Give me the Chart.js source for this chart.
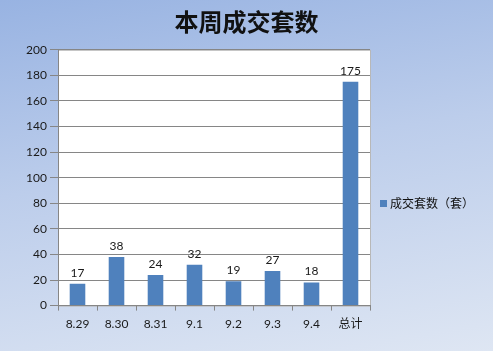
<!DOCTYPE html>
<html>
<head>
<meta charset="utf-8">
<script src="https://cdn.jsdelivr.net/npm/chart.js@4/dist/chart.umd.min.js"></script>
<style>
  html, body { margin: 0; padding: 0; }
  body {
    width: 493px; height: 351px; overflow: hidden;
    background: linear-gradient(170deg, #98b3e2 0%, #bccdeb 45%, #dee6f3 100%);
  }
  canvas { display: block; }
</style>
</head>
<body>
<canvas id="c" width="493" height="351"></canvas>
<script>
// 日期 / 成交套数
const days = ['8.29', '8.30', '8.31', '9.1', '9.2', '9.3', '9.4', '总计'];
const deals = [17, 38, 24, 32, 19, 27, 18, 175];
const yTicks = [0, 20, 40, 60, 80, 100, 120, 140, 160, 180, 200];
const seriesName = '成交套数（套）';

const fontFamily = "Lato, 'Noto Sans CJK SC', sans-serif";

// 白色绘图区 + 边框
const plotArea = {
    id: 'plotArea',
    beforeDraw(chart) {
        const { ctx, chartArea: a } = chart;
        ctx.save();
        ctx.fillStyle = '#ffffff';
        ctx.fillRect(a.left, a.top, a.right - a.left, a.bottom - a.top);
        ctx.strokeStyle = '#b8b8b8';
        ctx.lineWidth = 1;
        ctx.strokeRect(a.left + 0.5, a.top + 0.5, a.right - a.left, a.bottom - a.top);
        ctx.restore();
    }
};

// 柱顶数值
const valueLabels = {
    id: 'valueLabels',
    afterDatasetsDraw(chart) {
        const ctx = chart.ctx;
        const meta = chart.getDatasetMeta(0);
        ctx.save();
        ctx.font = '12px ' + fontFamily;
        ctx.fillStyle = '#1a1a1a';
        ctx.textAlign = 'center';
        ctx.textBaseline = 'bottom';
        meta.data.forEach((bar, i) => {
            ctx.fillText(deals[i], bar.x, bar.y - 5);
        });
        ctx.restore();
    }
};

// 右侧图例（Excel 风格，垂直位置偏下）
const sideLegend = {
    id: 'sideLegend',
    afterDraw(chart) {
        const ctx = chart.ctx;
        const x = chart.chartArea.right + 10;
        const y = 204;
        ctx.save();
        ctx.fillStyle = '#4f81bd';
        ctx.fillRect(x, y - 4, 7, 7);
        ctx.font = '12px ' + fontFamily;
        ctx.fillStyle = '#111';
        ctx.textBaseline = 'middle';
        ctx.fillText(seriesName, x + 10, y);
        ctx.restore();
    }
};

new Chart(document.getElementById('c'), {
    type: 'bar',
    data: {
        labels: days,
        datasets: [{
            label: seriesName,
            data: deals,
            backgroundColor: '#4f81bd',
            borderWidth: 0,
            categoryPercentage: 1,
            barPercentage: 0.4
        }]
    },
    options: {
        responsive: false,
        animation: false,
        layout: { padding: { left: 16, right: 16, top: 0, bottom: 14 } },
        plugins: {
            title: {
                display: true,
                text: '本周成交套数',
                color: '#111',
                font: { family: "'Noto Sans CJK SC', sans-serif", size: 24, weight: 'bold' },
                padding: { top: 7, bottom: 14 }
            },
            legend: { display: false },
            tooltip: { enabled: false }
        },
        scales: {
            x: {
                grid: {
                    offset: true,
                    drawOnChartArea: false,
                    color: '#868686',
                    tickLength: 5
                },
                border: { color: '#868686' },
                ticks: { color: '#1a1a1a', font: { family: fontFamily, size: 12 }, padding: 6 }
            },
            y: {
                min: 0,
                max: 200,
                afterBuildTicks(axis) {
                    axis.ticks = yTicks.map(v => ({ value: v }));
                },
                afterFit(axis) { axis.width = 42; },
                grid: { color: '#868686', tickLength: 8 },
                border: { color: '#868686' },
                ticks: { color: '#1a1a1a', font: { family: fontFamily, size: 12 }, padding: 3 }
            },
            // 空白右轴，为图例留出位置
            legendSpace: {
                position: 'right',
                grid: { display: false, drawTicks: false },
                border: { display: false },
                ticks: { display: false },
                afterFit(axis) { axis.width = 107; }
            }
        }
    },
    plugins: [plotArea, valueLabels, sideLegend]
});
</script>
</body>
</html>
